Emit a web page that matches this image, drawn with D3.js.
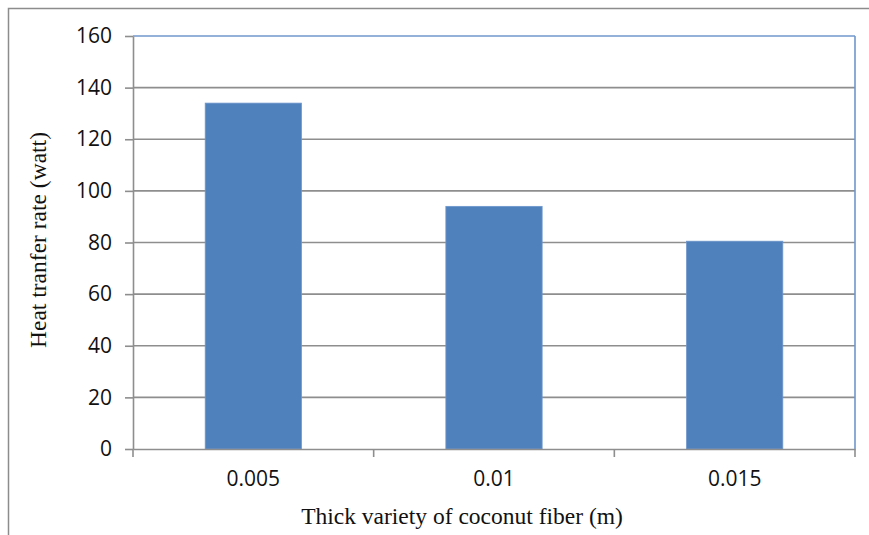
<!DOCTYPE html>
<html><head><meta charset="utf-8">
<script src="https://cdn.jsdelivr.net/npm/d3@7"></script>
<style>html,body{margin:0;padding:0;background:#fff;}svg{display:block;}</style>
</head><body>
<script>
const categories = ["0.005", "0.01", "0.015"];
const values = [134, 94, 80.5];
const yTicks = [0, 20, 40, 60, 80, 100, 120, 140, 160];
const xTitle = "Thick variety of coconut fiber (m)";
const yTitle = "Heat tranfer rate (watt)";

const W = 869, H = 535;
const m = {left: 133, right: 855, top: 36, bottom: 449};
const svg = d3.select("body").append("svg").attr("width", W).attr("height", H);

// outer chart border
svg.append("rect").attr("x", 8.5).attr("y", 8.5).attr("width", W + 10).attr("height", H + 10)
  .attr("fill", "#fff").attr("stroke", "#8c8c8c").attr("stroke-width", 1.5);

const x = d3.scaleBand().domain(categories).range([m.left, m.right]).paddingInner(0.6).paddingOuter(0.3);
const xb = d3.scaleBand().domain(categories).range([m.left, m.right]);
const y = d3.scaleLinear().domain([0, 160]).range([m.bottom, m.top]);

// gridlines
svg.append("g").selectAll("line").data(yTicks.filter(d => d > 0 && d < 160)).join("line")
  .attr("x1", m.left).attr("x2", m.right).attr("y1", d => y(d)).attr("y2", d => y(d))
  .attr("stroke", "#8e8e8e").attr("stroke-width", 1.6);

// plot border (top & right blue)
svg.append("line").attr("x1", m.left).attr("x2", m.right).attr("y1", y(160)).attr("y2", y(160))
  .attr("stroke", "#6f97cc").attr("stroke-width", 1.6);
svg.append("line").attr("x1", m.right).attr("x2", m.right).attr("y1", m.top).attr("y2", m.bottom)
  .attr("stroke", "#6f97cc").attr("stroke-width", 1.6);

// bars
svg.append("g").selectAll("rect").data(categories).join("rect")
  .attr("x", d => x(d)).attr("width", x.bandwidth())
  .attr("y", (d, i) => y(values[i])).attr("height", (d, i) => y(0) - y(values[i]))
  .attr("fill", "#4f81bd").attr("stroke", "#6f97cc").attr("stroke-width", 0.8);

// y axis
const yAxis = svg.append("g").attr("transform", `translate(${m.left},0)`)
  .call(d3.axisLeft(y).tickValues(yTicks).tickSize(8).tickPadding(13).tickSizeOuter(0));
yAxis.select(".domain").attr("stroke", "#8e8e8e").attr("stroke-width", 1.6);
yAxis.selectAll(".tick line").attr("stroke", "#8e8e8e").attr("stroke-width", 1.6);
yAxis.selectAll("text").attr("font-family", "'Open Sans', sans-serif").attr("font-size", 21).attr("fill", "#111");

// x axis
const xAxis = svg.append("g").attr("transform", `translate(0,${m.bottom})`)
  .call(d3.axisBottom(xb).tickSize(0).tickPadding(22));
xAxis.select(".domain").attr("stroke", "#8e8e8e").attr("stroke-width", 1.6);
xAxis.selectAll("text").attr("font-family", "'Open Sans', sans-serif").attr("font-size", 21).attr("fill", "#111");
// category boundary ticks
const bounds = categories.map(d => xb(d)).concat([m.right]);
svg.append("g").selectAll("line").data(bounds).join("line")
  .attr("x1", d => d).attr("x2", d => d).attr("y1", m.bottom).attr("y2", m.bottom + 8)
  .attr("stroke", "#8e8e8e").attr("stroke-width", 1.6);

// titles
svg.append("text").attr("x", 462).attr("y", 524)
  .attr("text-anchor", "middle").attr("font-family", "'Liberation Serif', 'Times New Roman', serif")
  .attr("font-size", 23.5).attr("fill", "#111").text(xTitle);
svg.append("text").attr("transform", `translate(46,240) rotate(-90)`)
  .attr("text-anchor", "middle").attr("font-family", "'Liberation Serif', 'Times New Roman', serif")
  .attr("font-size", 23.5).attr("fill", "#111").text(yTitle);
</script>
</body></html>
